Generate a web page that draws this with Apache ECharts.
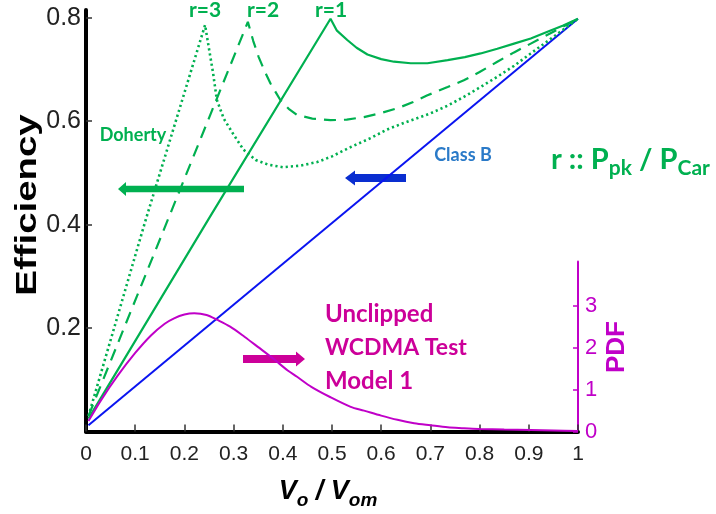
<!DOCTYPE html>
<html><head><meta charset="utf-8">
<script src="https://cdn.jsdelivr.net/npm/echarts@6/dist/echarts.min.js"></script>
<style>html,body{margin:0;padding:0;background:#fff}#c{width:716px;height:514px}</style>
</head><body><div id="c"></div>
<script>
// ---- data ----
const effTicks = [0.2, 0.4, 0.6, 0.8];
const pdfTicks = [0, 1, 2, 3];

const classBX = [0.005, 1.0];
const classBY = [0.012, 0.798];

const r1X = [0.005, 0.25, 0.497, 0.51, 0.531, 0.55, 0.572, 0.60, 0.626, 0.66, 0.694, 0.735, 0.77, 0.802, 0.836, 0.87, 0.904, 0.938, 0.97, 1.0];
const r1Y = [0.025, 0.412, 0.798, 0.775, 0.757, 0.742, 0.729, 0.720, 0.715, 0.712, 0.712, 0.718, 0.724, 0.731, 0.740, 0.750, 0.760, 0.773, 0.785, 0.798];

const r2X = [0.005, 0.17, 0.329, 0.34, 0.351, 0.363, 0.375, 0.395, 0.412, 0.429, 0.46, 0.497, 0.53, 0.565, 0.60, 0.633, 0.665, 0.694, 0.735, 0.768, 0.80, 0.836, 0.87, 0.904, 0.95, 1.0];
const r2Y = [0.03, 0.418, 0.792, 0.755, 0.724, 0.697, 0.673, 0.641, 0.624, 0.612, 0.605, 0.602, 0.603, 0.608, 0.616, 0.625, 0.637, 0.650, 0.666, 0.679, 0.695, 0.715, 0.733, 0.750, 0.773, 0.798];

const r3X = [0.005, 0.12, 0.242, 0.25, 0.258, 0.266, 0.28, 0.30, 0.32, 0.345, 0.37, 0.40, 0.435, 0.47, 0.50, 0.538, 0.58, 0.612, 0.65, 0.70, 0.735, 0.768, 0.80, 0.836, 0.87, 0.904, 0.95, 1.0];
const r3Y = [0.03, 0.405, 0.786, 0.74, 0.695, 0.641, 0.605, 0.574, 0.545, 0.525, 0.516, 0.511, 0.514, 0.521, 0.532, 0.550, 0.568, 0.584, 0.598, 0.615, 0.630, 0.647, 0.665, 0.686, 0.707, 0.731, 0.763, 0.798];

const pdfX = [0.005, 0.03, 0.064, 0.1, 0.132, 0.16, 0.179, 0.2, 0.22, 0.245, 0.267, 0.293, 0.322, 0.35, 0.381, 0.41, 0.429, 0.458, 0.497, 0.538, 0.565, 0.6, 0.633, 0.667, 0.70, 0.735, 0.768, 0.802, 0.85, 0.904, 0.95, 1.0];
const pdfY = [0.25, 0.74, 1.33, 1.88, 2.30, 2.58, 2.71, 2.80, 2.83, 2.79, 2.67, 2.51, 2.27, 2.02, 1.74, 1.46, 1.31, 1.07, 0.82, 0.59, 0.50, 0.38, 0.28, 0.20, 0.15, 0.10, 0.08, 0.06, 0.045, 0.035, 0.025, 0.01];

const zip = (a, b) => a.map((v, i) => [v, b[i]]);

const GREEN = '#00b050';
const BLUE = '#0a14f0';
const MAG = '#c000c8';
const MAGTXT = '#cc0099';

const chart = echarts.init(document.getElementById('c'));

const arrow = (tipX, y, tailX, shaftH, headH, headL, color) => {
  const dir = tailX > tipX ? 1 : -1;
  const bx = tipX + dir * headL;
  return {
    type: 'polygon',
    shape: { points: [
      [tipX, y], [bx, y - headH / 2], [bx, y - shaftH / 2], [tailX, y - shaftH / 2],
      [tailX, y + shaftH / 2], [bx, y + shaftH / 2], [bx, y + headH / 2]
    ] },
    style: { fill: color }
  };
};

chart.setOption({
  backgroundColor: '#fff',
  animation: false,
  grid: [
    { left: 86, right: 138, top: 10, bottom: 82.5 },
    { left: 86, right: 138, top: 261.5, bottom: 82.5 }
  ],
  xAxis: [
    {
      type: 'value', gridIndex: 0, min: 0, max: 1, interval: 0.1,
      axisLine: { show: true, onZero: false, lineStyle: { color: '#000', width: 4 } },
      axisTick: { show: true, inside: true, length: 7, lineStyle: { color: '#333', width: 1.5 } },
      axisLabel: {
        fontSize: 21, color: '#222', margin: 12, fontFamily: 'Liberation Sans',
        formatter: v => (v === 0 ? '0' : (Math.abs(v - 1) < 1e-9 ? '1' : v.toFixed(1)))
      },
      splitLine: { show: false }
    },
    { type: 'value', gridIndex: 1, min: 0, max: 1, show: false }
  ],
  yAxis: [
    {
      type: 'value', gridIndex: 0, min: 0, max: 0.815, position: 'left',
      axisLine: { show: true, onZero: false, lineStyle: { color: '#000', width: 4 } },
      axisTick: { show: true, inside: true, length: 6, customValues: effTicks, lineStyle: { color: '#333', width: 1.5 } },
      axisLabel: {
        customValues: effTicks, fontSize: 25, color: '#222', margin: 5, fontFamily: 'Liberation Sans',
        formatter: v => v.toFixed(1)
      },
      splitLine: { show: false }
    },
    {
      type: 'value', gridIndex: 1, min: 0, max: 4.07, position: 'right',
      axisLine: { show: true, onZero: false, lineStyle: { color: MAG, width: 2 } },
      axisTick: { show: true, inside: true, length: 5, customValues: pdfTicks, lineStyle: { color: MAG, width: 1.5 } },
      axisLabel: {
        customValues: pdfTicks, fontSize: 22, color: MAG, margin: 7, fontFamily: 'Liberation Sans'
      },
      splitLine: { show: false }
    }
  ],
  series: [
    { type: 'line', name: 'Class B', xAxisIndex: 0, yAxisIndex: 0, data: zip(classBX, classBY), symbol: 'none',
      lineStyle: { color: BLUE, width: 2 } },
    { type: 'line', name: 'r=1', xAxisIndex: 0, yAxisIndex: 0, data: zip(r1X, r1Y), symbol: 'none',
      lineStyle: { color: GREEN, width: 2.2 } },
    { type: 'line', name: 'r=2', xAxisIndex: 0, yAxisIndex: 0, data: zip(r2X, r2Y), symbol: 'none',
      lineStyle: { color: GREEN, width: 2.2, type: [12, 8] } },
    { type: 'line', name: 'r=3', xAxisIndex: 0, yAxisIndex: 0, data: zip(r3X, r3Y), symbol: 'none',
      lineStyle: { color: GREEN, width: 2.6, type: [2.2, 3] } },
    { type: 'line', name: 'PDF', xAxisIndex: 1, yAxisIndex: 1, data: zip(pdfX, pdfY), symbol: 'none', smooth: 0.3,
      lineStyle: { color: MAG, width: 2 } }
  ],
  graphic: [
    { type: 'text', x: 28, y: 205, rotation: Math.PI / 2, scaleX: 1.28,
      style: { text: 'Efficiency', font: 'bold 30px "Liberation Sans"', fill: '#000', align: 'center', verticalAlign: 'middle' } },
    { type: 'text', x: 328, y: 494,
      style: {
        text: '{m|V}{s|o}{m| / V}{s|om}', align: 'center', verticalAlign: 'middle',
        rich: {
          m: { fontFamily: 'Liberation Sans', fontWeight: 'bold', fontStyle: 'italic', fontSize: 27, fill: '#000', verticalAlign: 'top' },
          s: { fontFamily: 'Liberation Sans', fontWeight: 'bold', fontStyle: 'italic', fontSize: 19, fill: '#000', padding: [13, 0, 0, 0], verticalAlign: 'top' }
        }
      } },
    { type: 'text', x: 617, y: 347, rotation: Math.PI / 2,
      style: { text: 'PDF', font: 'bold 26px "Liberation Sans"', fill: MAG, align: 'center', verticalAlign: 'middle' } },
    { type: 'text', x: 205, y: 10, style: { text: 'r=3', font: 'bold 21px Lato', fill: GREEN, align: 'center', verticalAlign: 'middle' } },
    { type: 'text', x: 263, y: 10, style: { text: 'r=2', font: 'bold 21px Lato', fill: GREEN, align: 'center', verticalAlign: 'middle' } },
    { type: 'text', x: 331, y: 10, style: { text: 'r=1', font: 'bold 21px Lato', fill: GREEN, align: 'center', verticalAlign: 'middle' } },
    { type: 'text', x: 133, y: 135, style: { text: 'Doherty', font: 'bold 18px Lato', fill: GREEN, align: 'center', verticalAlign: 'middle' } },
    { type: 'text', x: 463, y: 155, style: { text: 'Class B', font: 'bold 18px Lato', fill: '#2a7ac8', align: 'center', verticalAlign: 'middle' } },
    { type: 'text', x: 551, y: 162,
      style: {
        text: '{m|r :: P}{s|pk}{m| / P}{s|Car}', align: 'left', verticalAlign: 'middle',
        rich: {
          m: { fontFamily: 'Lato', fontWeight: 'bold', fontSize: 29, fill: GREEN, verticalAlign: 'top' },
          s: { fontFamily: 'Lato', fontWeight: 'bold', fontSize: 21, fill: GREEN, padding: [13, 0, 0, 0], verticalAlign: 'top' }
        }
      } },
    { type: 'text', x: 325, y: 314, style: { text: 'Unclipped', font: 'bold 24px Lato', fill: MAGTXT, align: 'left', verticalAlign: 'middle' } },
    { type: 'text', x: 325, y: 348, style: { text: 'WCDMA Test', font: 'bold 23px Lato', fill: MAGTXT, align: 'left', verticalAlign: 'middle' } },
    { type: 'text', x: 325, y: 381, style: { text: 'Model 1', font: 'bold 24px Lato', fill: MAGTXT, align: 'left', verticalAlign: 'middle' } },
    arrow(118, 189, 244, 6.5, 14, 8, GREEN),
    arrow(345, 178, 406, 8, 15, 10, '#0a2ed0'),
    arrow(305, 359, 243, 8, 15, 9, MAGTXT)
  ]
});
</script>
</body></html>
